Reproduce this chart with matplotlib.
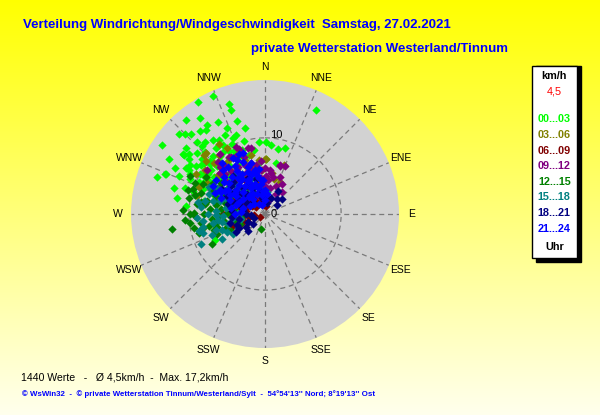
import numpy as np
import matplotlib
matplotlib.use("Agg")
import matplotlib.pyplot as plt
from matplotlib.patches import Rectangle

plt.rcParams['font.family'] = ['Liberation Sans', 'DejaVu Sans']

# ---------------- data ----------------
compass = ["N", "NNE", "NE", "ENE", "E", "ESE", "SE", "SSE",
           "S", "SSW", "SW", "WSW", "W", "WNW", "NW", "NNW"]
r_max = 17.6
r_ring = 10

hour_labels = ["00...03", "03...06", "06...09", "09...12",
               "12...15", "15...18", "18...21", "21...24"]
hour_colors = ["#00FF00", "#808000", "#800000", "#800080",
               "#008000", "#008080", "#000080", "#0000FF"]

dir_00_03 = [329, 336, 342, 342, 320, 326, 343, 325, 336, 347, 313, 317, 304, 325, 317, 333,
             355, 1, 5, 11, 17, 326, 306, 308, 316, 354, 1, 289, 292, 300, 276, 243, 26, 288,
             306, 306, 305, 292, 302,
             310, 312, 315, 318, 320, 322, 324, 327, 330, 332, 335, 338, 340, 305, 302, 298,
             300, 308, 313, 318, 295, 296, 285, 282, 290, 328, 320, 312, 335, 345, 350, 12,
             300, 310, 322, 330, 305,
             298, 303, 307, 311, 314, 317, 319, 323, 326, 329, 331, 334, 337, 301, 306, 309,
             292, 288, 294, 297, 315, 327, 333, 340, 344, 286, 280, 300]
spd_00_03 = [17.2, 16.9, 15.2, 14.4, 16.2, 15.2, 12.8, 13.4, 12.4, 11.6, 15.5, 14.3, 16.3, 11.9, 13.0, 11.6,
             9.5, 9.4, 9.1, 8.7, 9.1, 10.9, 13.1, 12.7, 11.4, 6.9, 7.2, 15.0, 14.0, 11.6, 10.4, 7.4, 15.2, 11.0,
             13.3, 12.3, 11.1, 14.1, 9.6,
             10.5, 9.8, 9.0, 10.2, 8.5, 9.6, 7.8, 8.8, 9.5, 7.5, 8.2, 6.8, 9.0, 9.2, 10.0, 9.0,
             8.0, 7.5, 6.5, 7.0, 10.8, 9.6, 9.5, 8.2, 7.0, 11.5, 12.3, 12.0, 10.2, 8.0, 8.5, 6.8,
             12.0, 13.5, 13.8, 6.0, 6.0,
             11.2, 11.8, 10.6, 11.0, 10.0, 12.2, 9.3, 10.8, 9.9, 10.6, 8.6, 9.2, 10.9, 8.7, 8.3, 9.2,
             8.8, 9.9, 12.3, 13.2, 14.8, 14.0, 13.5, 11.0, 10.0, 12.4, 11.8, 14.5]

dir_03_06 = [25, 0, 354, 330, 316, 285, 302, 314, 1, 21, 325, 340, 310, 320, 295, 290,
             335, 345, 305, 315, 300, 350, 10, 280, 318, 328, 338,
             322, 312, 306, 298, 292, 327, 333, 347, 356, 15]
spd_03_06 = [4.6, 7.2, 7.1, 10.0, 11.2, 9.3, 9.1, 11.2, 7.2, 6.9, 8.5, 7.5, 8.0, 6.5, 7.8, 6.0,
             5.5, 6.2, 5.0, 9.5, 10.5, 4.5, 5.5, 8.5, 4.5, 7.0, 9.0,
             9.8, 10.5, 9.8, 8.6, 9.4, 11.0, 8.5, 8.0, 5.8, 4.8]

dir_06_09 = [267, 245, 254, 240, 310, 300, 320, 330, 340, 290, 280, 315, 325, 335, 345, 350,
             305, 295, 285, 275, 260, 265, 310, 355, 5, 320, 330, 300, 270, 250, 315, 325,
             318, 328, 338, 308, 298, 288, 278, 268, 258, 248, 330, 345]
spd_06_09 = [2.9, 2.4, 3.0, 0.7, 4.9, 2.0, 3.0, 2.5, 1.8, 3.5, 2.5, 5.5, 4.2, 3.8, 3.0, 2.2,
             3.2, 4.5, 5.0, 4.0, 3.5, 1.5, 1.5, 1.2, 1.0, 6.0, 5.2, 6.0, 5.5, 4.5, 2.5, 1.8,
             4.0, 3.0, 2.8, 3.0, 3.2, 2.6, 3.4, 2.8, 2.2, 3.2, 4.5, 4.0]

dir_09_12 = [338, 328, 17, 9, 17, 22, 22, 37, 14, 23, 17, 323, 329, 307,
             340, 345, 350, 355, 0, 5, 10, 335, 330, 325, 320, 315, 345, 352, 358, 2, 12, 28,
             340, 333, 318, 312, 348, 30, 342, 310, 300,
             326, 332, 338, 343, 348, 353, 357, 1, 6, 322, 316, 337, 346, 356]
spd_09_12 = [9.2, 8.8, 6.7, 5.4, 6.6, 5.2, 4.0, 3.7, 2.0, 6.8, 1.9, 9.9, 8.7, 9.5,
             8.0, 7.0, 6.5, 5.8, 6.0, 4.5, 3.5, 6.0, 7.2, 6.5, 8.2, 7.5, 4.8, 3.8, 2.8, 3.5, 5.0, 3.0,
             5.5, 8.5, 9.2, 8.0, 8.8, 4.5, 2.5, 6.5, 7.0,
             5.8, 4.8, 7.0, 6.0, 5.5, 4.8, 4.2, 5.0, 5.8, 7.2, 8.6, 9.6, 9.0, 7.0]

dir_12_15 = [261, 194, 294, 297, 281, 289, 270,
             255, 258, 260, 262, 265, 268, 270, 272, 275, 278, 280, 283, 285, 288, 290, 293,
             296, 298, 300, 275, 265, 258, 250, 252, 268, 282, 286, 262, 276, 292, 305, 300,
             248, 244, 266, 273, 259, 285,
             257, 263, 271, 279, 284, 289, 294, 270, 260, 254, 247, 240, 302, 287]
spd_12_15 = [12.4, 2.0, 10.1, 11.0, 8.5, 10.0, 9.9,
             6.5, 7.5, 5.5, 8.5, 7.0, 6.0, 8.0, 5.0, 7.2, 9.0, 6.5, 7.8, 5.5, 8.8, 6.8, 7.5,
             9.0, 5.8, 8.0, 4.0, 4.5, 4.0, 5.5, 7.0, 9.2, 10.2, 4.5, 3.2, 5.8, 4.0, 7.0, 5.0,
             3.5, 5.0, 10.5, 10.8, 9.5, 9.5,
             8.3, 9.9, 9.3, 8.0, 6.6, 5.6, 6.2, 4.3, 6.5, 9.0, 6.8, 8.0, 9.2, 10.6]

dir_15_18 = [245, 258, 267, 6, 0,
             250, 255, 260, 263, 267, 270, 274, 278, 282, 286, 290, 295, 300, 305, 310, 248,
             240, 243, 253, 262, 272, 288, 296, 315, 320, 330, 340, 350, 325, 280, 257,
             252, 256, 264, 269, 276, 284, 292, 298, 245, 238, 259, 302, 308]
spd_15_18 = [9.3, 8.3, 8.9, 2.9, 2.8,
             6.0, 5.0, 7.0, 6.2, 5.5, 7.5, 6.5, 5.2, 8.0, 6.2, 7.8, 6.5, 5.5, 6.0, 4.5, 7.5,
             6.5, 4.0, 8.5, 4.2, 3.5, 4.8, 8.2, 5.2, 4.0, 3.5, 5.0, 3.2, 6.5, 9.0, 3.2,
             6.8, 9.0, 8.2, 6.5, 8.5, 7.0, 5.7, 7.2, 5.5, 5.0, 5.8, 4.3, 5.0]

dir_18_21 = [50, 249, 246, 40, 30, 55, 20, 10, 0, 350, 340, 330, 320, 310, 300, 290, 280,
             270, 260, 255, 242, 235, 325, 315, 335, 345, 305, 295, 285, 265, 250, 230, 225,
             238, 315,
             318, 328, 338, 348, 308, 298, 288, 275, 265, 310, 320, 300]
spd_18_21 = [3.0, 4.0, 2.5, 2.5, 3.5, 2.0, 2.2, 1.5, 2.0, 3.0, 4.0, 3.2, 4.5, 3.8, 2.8, 4.2, 3.0,
             2.5, 3.5, 4.8, 3.8, 3.0, 5.5, 6.0, 5.2, 4.8, 5.0, 5.5, 5.0, 1.8, 1.5, 2.0, 3.2,
             4.5, 2.2,
             3.5, 4.5, 3.8, 2.2, 4.5, 3.8, 3.3, 4.3, 4.4, 5.8, 6.5, 6.5]

dir_21_24 = [324, 322, 298, 347, 328, 298, 337,
             310, 315, 318, 320, 325, 330, 332, 335, 338, 340, 342, 345, 348, 350, 352, 355,
             358, 305, 302, 300, 295, 292, 290, 288, 285, 308, 312, 316, 322, 327, 333, 313,
             327, 343, 300, 280, 275, 270, 345, 352, 330, 340,
             318, 323, 327, 333, 338, 342, 306, 303, 297, 311, 317, 329, 336, 350, 356, 0, 5,
             293, 298, 305, 320, 337]
spd_21_24 = [5.5, 3.2, 5.2, 5.9, 7.5, 6.7, 7.4,
             5.0, 4.0, 6.5, 2.5, 4.5, 6.0, 3.8, 5.0, 2.8, 6.5, 4.2, 3.5, 5.2, 2.5, 4.0, 3.0,
             1.8, 3.5, 4.5, 6.0, 3.8, 5.0, 6.2, 4.0, 3.0, 6.8, 7.2, 8.0, 7.8, 6.8, 8.0, 2.0,
             1.5, 1.2, 2.2, 4.5, 3.2, 4.0, 7.0, 6.0, 8.5, 8.5,
             5.2, 6.0, 5.5, 4.8, 6.0, 5.5, 4.8, 5.8, 6.5, 6.2, 3.0, 3.0, 4.2, 4.8, 4.5, 3.2, 2.6,
             7.2, 7.8, 7.8, 8.8, 8.6]

groups_dir = [dir_00_03, dir_03_06, dir_06_09, dir_09_12, dir_12_15, dir_15_18, dir_18_21, dir_21_24]
groups_spd = [spd_00_03, spd_03_06, spd_06_09, spd_09_12, spd_12_15, spd_15_18, spd_18_21, spd_21_24]

title1 = "Verteilung Windrichtung/Windgeschwindigkeit  Samstag, 27.02.2021"
title2 = "private Wetterstation Westerland/Tinnum"
mean_txt = "4,5"
stats_txt = "1440 Werte   -   Ø 4,5km/h  -  Max. 17,2km/h"
footer_txt = "© WsWin32  -  © private Wetterstation Tinnum/Westerland/Sylt  -  54°54'13'' Nord; 8°19'13'' Ost"

# ---------------- figure ----------------
W, H = 600, 415
fig = plt.figure(figsize=(W / 100, H / 100), dpi=100)

# background gradient
bg = fig.add_axes([0, 0, 1, 1])
grad = np.linspace(0, 1, 256)[:, None]
img = np.zeros((256, 2, 3))
img[..., 0] = 1.0
img[..., 1] = 1.0
img[..., 2] = (grad * 0.93) * np.ones((1, 2))
bg.imshow(img, aspect='auto', extent=[0, 1, 0, 1], origin='upper')
bg.set_xlim(0, 1)
bg.set_ylim(0, 1)
bg.axis('off')

def fx(x):
    return x / W

def fy(y):
    return 1 - y / H

# polar axes
cx, cy, rad = 265, 214, 134
ax = fig.add_axes([fx(cx - rad), fy(cy + rad), 2 * rad / W, 2 * rad / H], projection='polar')
ax.set_theta_zero_location('N')
ax.set_theta_direction(-1)
ax.set_facecolor('#D2D2D2')
ax.spines['polar'].set_visible(False)
ax.set_ylim(0, r_max)
ax.set_xticks(np.radians(np.arange(0, 360, 22.5)))
ax.set_xticklabels([])
ax.set_yticks([r_ring])
ax.set_yticklabels([])
ax.set_axisbelow(True)
ax.grid(True, color='#7A7A7A', linestyle=(0, (4, 3)), linewidth=0.9)
ax.tick_params(length=0)

for d, s, col in zip(groups_dir, groups_spd, hour_colors):
    ax.scatter(np.radians(d), s, marker='D', s=18, color=col, linewidths=0, zorder=3)

for i, name in enumerate(compass):
    ax.text(np.radians(i * 22.5), 19.3, name, ha='center', va='center',
            fontsize=7.5, color='black', clip_on=False)

ax.annotate("10", xy=(0, r_ring), xytext=(4, 2), textcoords='offset points',
            ha='left', va='center', fontsize=8, color='black', zorder=5)
ax.annotate("0", xy=(0, 0), xytext=(4, 0), textcoords='offset points',
            ha='left', va='center', fontsize=8, color='black', zorder=5)

# titles
fig.text(fx(23), fy(25), title1, ha='left', va='center', fontsize=9.5,
         fontweight='bold', color='#0000FF')
fig.text(fx(251), fy(49), title2, ha='left', va='center', fontsize=9.5,
         fontweight='bold', color='#0000FF')

# legend box
shadow = Rectangle((fx(535.5), fy(262)), fx(45.5), 196 / H, transform=fig.transFigure,
                   facecolor='black', edgecolor='black', zorder=1)
box = Rectangle((fx(531.5), fy(258)), fx(45.5), 192 / H, transform=fig.transFigure,
                facecolor='white', edgecolor='black', linewidth=1, zorder=2)
fig.patches.extend([shadow, box])
lx = 554.3
fig.text(fx(lx), fy(76), "km/h", ha='center', va='center', fontsize=7.8,
         fontweight='bold', color='black', zorder=3)
fig.text(fx(lx), fy(92), mean_txt, ha='center', va='center', fontsize=7.8,
         color='#FF0000', zorder=3)
for i, (lab, col) in enumerate(zip(hour_labels, hour_colors)):
    fig.text(fx(lx), fy(119.3 + i * 15.6), lab, ha='center', va='center', fontsize=7.8,
             fontweight='bold', color=col, zorder=3)
fig.text(fx(lx), fy(247), "Uhr", ha='center', va='center', fontsize=7.8,
         fontweight='bold', color='black', zorder=3)

# bottom texts
fig.text(fx(21), fy(377), stats_txt, ha='left', va='center', fontsize=7.6, color='black')
fig.text(fx(22), fy(394), footer_txt, ha='left', va='center', fontsize=5.7,
         fontweight='bold', color='#0000FF')

fig.savefig("out.png", dpi=100)
